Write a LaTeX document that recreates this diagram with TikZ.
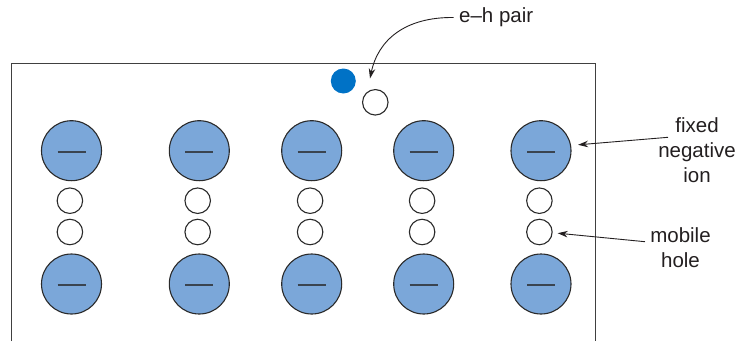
\documentclass[tikz,border=0pt]{standalone}
\usepackage{fontspec}
\setmainfont{Liberation Sans}
\usetikzlibrary{arrows.meta}
\definecolor{ionfill}{HTML}{7BA7D9}
\definecolor{edgecol}{HTML}{2A2A2A}
\definecolor{minuscol}{HTML}{3A4450}
\definecolor{eblue}{HTML}{0072C6}
\definecolor{inkcol}{HTML}{231F20}
\begin{document}
\begin{tikzpicture}[x=1pt,y=-1pt,
  ion/.style={circle,draw=edgecol,fill=ionfill,line width=1.1pt,minimum size=60pt,inner sep=0pt},
  hole/.style={circle,draw=edgecol,fill=white,line width=1.1pt,minimum size=25.5pt,inner sep=0pt},
  electron/.style={circle,fill=eblue,minimum size=25pt,inner sep=0pt},
  minusbar/.style={line width=2pt,draw=minuscol},
  lbl/.style={font=\fontsize{20.5}{25}\selectfont,align=center,inner sep=0pt,text=inkcol},
  arr/.style={-{Stealth[length=10pt,width=6.5pt]},line width=0.9pt,draw=inkcol}]
\useasboundingbox (0,0) rectangle (740,341);
\draw[line width=1pt,draw=black!75] (11,341) -- (11,63) -- (595,63) -- (595,341);
\foreach \i/\x in {1/71.5,2/199.3,3/311.7,4/423.7,5/541}{
  \node[ion] (it\i) at (\x,150.7) {};
  \node[ion] (ib\i) at (\x,284) {};
  \node[hole] (ha\i) at (\x-1.6,200.7) {};
  \node[hole] (hb\i) at (\x-1.6,232) {};
  \draw[minusbar] ([xshift=-14pt,yshift=-1pt]it\i.center) -- ([xshift=14pt,yshift=-1pt]it\i.center);
  \draw[minusbar] ([xshift=-14pt,yshift=-1pt]ib\i.center) -- ([xshift=14pt,yshift=-1pt]ib\i.center);
}
\node[electron] (elec) at (343.3,81) {};
\node[hole] (pairhole) at (375.3,102.3) {};
% labels
\node[lbl,anchor=base west] (ehlbl) at (459,22.5) {e–h pair};
\coordinate (ehtail) at (453.5,17.5);
\coordinate (ehtip) at (370,78.5);
\draw[arr] (ehtail) .. controls (405,17) and (378,40) .. (ehtip);
\node[lbl] (ionlbl) at (697,150) {fixed\\negative\\ion};
\coordinate (fixtail) at (668,137.3);
\draw[arr,shorten >=7pt] (fixtail) -- (it5.10);
\node[lbl] (holelbl) at (680.5,248) {mobile\\hole};
\coordinate (mobtail) at (645,241.7);
\draw[arr,shorten >=5pt] (mobtail) -- (hb5.-3);
\end{tikzpicture}
\end{document}
